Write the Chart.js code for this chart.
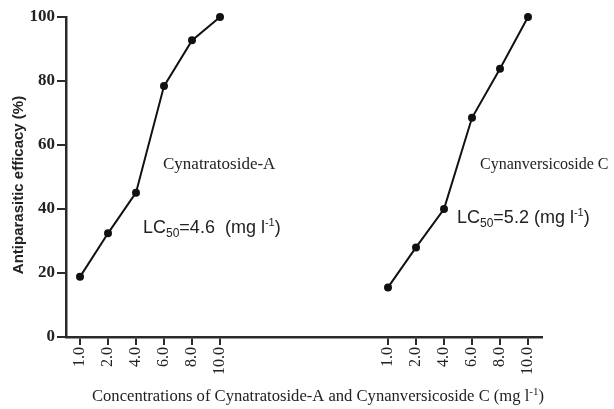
<!DOCTYPE html>
<html>
<head>
<meta charset="utf-8">
<script src="https://cdn.jsdelivr.net/npm/chart.js@4/dist/chart.umd.min.js"></script>
<style>
  html, body { margin: 0; padding: 0; background: #fff; }
  #wrap { width: 614px; height: 409px; }
</style>
</head>
<body>
<div id="wrap"><canvas id="chart"></canvas></div>
<script>
// concentrations (mg l-1) tested for each compound
const concentrations = ["1.0", "2.0", "4.0", "6.0", "8.0", "10.0"];
// antiparasitic efficacy (%)
const cynatratosideA = [18.8, 32.4, 45.1, 78.4, 92.7, 100];
const cynanversicosideC = [15.5, 28.0, 40.0, 68.5, 83.8, 100];
const gapSize = 5;
const yTicks = [0, 20, 40, 60, 80, 100];

const gapLabels = new Array(gapSize).fill("");
const labels = concentrations.concat(gapLabels, concentrations);
const nullsFor = (n) => new Array(n).fill(null);

const dataA = cynatratosideA.concat(nullsFor(gapSize + concentrations.length));
const dataC = nullsFor(concentrations.length + gapSize).concat(cynanversicosideC);

const axisColor = "#2b2b2b";

function drawRich(ctx, x, y, parts) {
  // parts: [text, font, dy]
  parts.forEach(function (p) {
    ctx.font = p[1];
    ctx.fillText(p[0], x, y + (p[2] || 0));
    x += ctx.measureText(p[0]).width;
  });
  return x;
}

const textPlugin = {
  id: "texts",
  afterDraw(chart) {
    const ctx = chart.ctx;
    ctx.save();
    ctx.fillStyle = "#222";
    ctx.textBaseline = "alphabetic";
    ctx.textAlign = "left";

    ctx.font = "17px 'Liberation Serif'";
    ctx.fillText("Cynatratoside-A", 163, 169);
    ctx.font = "16px 'Liberation Serif'";
    ctx.fillText("Cynanversicoside C", 480, 169);

    const sans = "'Liberation Sans'";
    drawRich(ctx, 143, 233, [
      ["LC", "18px " + sans],
      ["50", "12px " + sans, 4],
      ["=4.6  (mg l", "18px " + sans],
      ["-1", "11px " + sans, -7],
      [")", "18px " + sans],
    ]);
    drawRich(ctx, 457, 223, [
      ["LC", "18px " + sans],
      ["50", "12px " + sans, 4],
      ["=5.2 (mg l", "18px " + sans],
      ["-1", "11px " + sans, -7],
      [")", "18px " + sans],
    ]);

    // x axis title
    drawRich(ctx, 92, 401, [
      ["Concentrations of Cynatratoside-A and Cynanversicoside C (mg l", "16.6px 'Liberation Serif'"],
      ["-1", "11px 'Liberation Serif'", -6],
      [")", "16.6px 'Liberation Serif'"],
    ]);

    // y axis title
    ctx.translate(19, 185);
    ctx.rotate(-Math.PI / 2);
    ctx.textAlign = "center";
    ctx.textBaseline = "middle";
    ctx.font = "bold 15px 'Liberation Sans'";
    ctx.fillText("Antiparasitic efficacy (%)", 0, 0);
    ctx.restore();
  },
};

const lineStyle = {
  borderColor: "#111",
  backgroundColor: "#111",
  borderWidth: 2,
  pointRadius: 3,
  pointHoverRadius: 3,
  spanGaps: false,
  tension: 0,
  clip: false,
};

new Chart(document.getElementById("chart"), {
  type: "line",
  data: {
    labels: labels,
    datasets: [
      Object.assign({ label: "Cynatratoside-A", data: dataA }, lineStyle),
      Object.assign({ label: "Cynanversicoside C", data: dataC }, lineStyle),
    ],
  },
  options: {
    responsive: true,
    maintainAspectRatio: false,
    animation: false,
    events: [],
    layout: { padding: { top: 17, right: 72, left: 0, bottom: 0 } },
    plugins: {
      legend: { display: false },
      tooltip: { enabled: false },
    },
    scales: {
      x: {
        type: "category",
        offset: true,
        afterFit(scale) { scale.height = 72; },
        border: { color: axisColor, width: 2.5 },
        grid: {
          drawOnChartArea: false,
          drawTicks: true,
          tickLength: 8,
          lineWidth: 2,
          offset: false,
          color: (c) => (labels[c.index] === "" ? "rgba(0,0,0,0)" : axisColor),
        },
        ticks: {
          autoSkip: false,
          minRotation: 90,
          maxRotation: 90,
          padding: 2,
          color: "#222",
          font: { family: "'Liberation Serif'", size: 16 },
        },
      },
      y: {
        min: 0,
        max: 100,
        afterFit(scale) { scale.width = 66; },
        afterBuildTicks(scale) { scale.ticks = yTicks.map((v) => ({ value: v })); },
        border: { color: axisColor, width: 2.5 },
        grid: {
          drawOnChartArea: false,
          drawTicks: true,
          tickLength: 9,
          lineWidth: 2,
          color: axisColor,
        },
        ticks: {
          padding: 2,
          color: "#222",
          font: { family: "'Liberation Serif'", size: 17, weight: "bold" },
        },
      },
    },
  },
  plugins: [textPlugin],
});
</script>
</body>
</html>
